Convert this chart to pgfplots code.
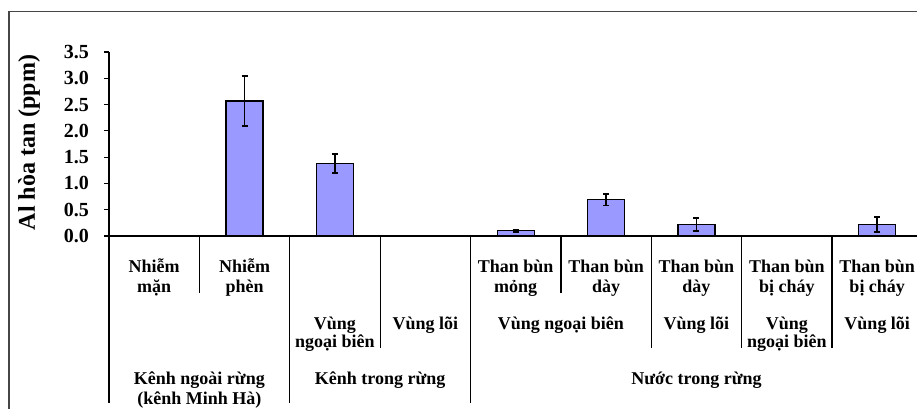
\documentclass[border=0pt]{standalone}
\usepackage{pgfplots}
\usepackage{pgfplotstable}
\pgfplotsset{compat=1.18}
\usepackage{fontspec}
\setmainfont{Liberation Serif}

\definecolor{barfill}{RGB}{153,153,255}
\definecolor{framegray}{RGB}{70,70,70}

% dissolved Al (ppm): slot, mean, standard error
\pgfplotstableread{
x y err
1 2.57 0.48
2 1.38 0.18
4 0.10 0.02
5 0.69 0.11
6 0.215 0.12
8 0.22 0.14
}\altable

\newcommand\lblfont{\fontsize{18bp}{20bp}\selectfont\bfseries}
% one line of category text: slot, depth of baseline below the axis, text
\newcommand\lab[3]{\node[anchor=base, inner sep=0pt, font=\lblfont]
  at (axis cs:#1,0) [yshift=-#2bp] {#3};}
% separator below the axis: slot boundary, depth
\newcommand\sep[2]{\draw[black, line width=1.2bp] (axis cs:#1,0) -- ++(0bp,-#2bp);}

\begin{document}
\begin{tikzpicture}[x=1bp,y=1bp]
% chart frame
\draw[framegray, line width=1.6bp] (8.7,-30) -- (8.7,396.3) -- (960,396.3);

\begin{axis}[
  at={(109bp,172bp)}, anchor=south west,
  scale only axis, width=808bp, height=184bp,
  xmin=-0.5, xmax=8.44, ymin=0, ymax=3.5,
  axis x line*=bottom, axis y line*=left,
  axis line style={black, line width=1.2bp},
  xtick=\empty,
  ytick={0,0.5,...,3.5},
  tick align=outside, major tick length=5bp,
  tick style={black, line width=1.2bp},
  yticklabel style={
    /pgf/number format/.cd, fixed, fixed zerofill, precision=1, assume math mode=true,
    /tikz/.cd, font=\fontsize{20bp}{20bp}\selectfont\bfseries,
    inner sep=0pt, anchor=east, xshift=-15bp},
  ylabel={Al hòa tan (ppm)},
  ylabel style={at={(axis description cs:-0.099,0.508)}, anchor=center,
    rotate=0, font=\fontsize{24bp}{24bp}\selectfont\bfseries},
  ybar, bar width=37bp,
  clip=false,
]
\addplot[ybar, fill=barfill, draw=black, line width=1.3bp,
  error bars/.cd, y dir=both, y explicit,
  error bar style={black, line width=1.8bp},
  error mark options={black, rotate=90, mark size=3bp, line width=1.8bp}]
  table[x=x, y=y, y error=err] {\altable};

% separators of the category levels
\sep{-0.5}{167}
\sep{0.5}{57}
\sep{1.5}{167}
\sep{2.5}{112}
\sep{3.5}{167}
\sep{4.5}{57}
\sep{5.5}{112}
\sep{6.5}{112}
\sep{7.5}{112}

% first level
\lab{0}{36}{Nhiễm}  \lab{0}{56}{mặn}
\lab{1}{36}{Nhiễm}  \lab{1}{56}{phèn}
\lab{4}{36}{Than bùn} \lab{4}{56}{mỏng}
\lab{5}{36}{Than bùn} \lab{5}{56}{dày}
\lab{6}{36}{Than bùn} \lab{6}{56}{dày}
\lab{7}{36}{Than bùn} \lab{7}{56}{bị cháy}
\lab{8}{36}{Than bùn} \lab{8}{56}{bị cháy}

% second level
\lab{2}{93}{Vùng} \lab{2}{111}{ngoại biên}
\lab{3}{93}{Vùng lõi}
\lab{4.5}{93}{Vùng ngoại biên}
\lab{6}{93}{Vùng lõi}
\lab{7}{93}{Vùng} \lab{7}{111}{ngoại biên}
\lab{8}{93}{Vùng lõi}

% third level
\lab{0.5}{148}{Kênh ngoài rừng} \lab{0.5}{168}{(kênh Minh Hà)}
\lab{2.5}{148}{Kênh trong rừng}
\lab{6}{148}{Nước trong rừng}
\end{axis}

\pgfresetboundingbox
\useasboundingbox (0,0) rectangle (917,408);
\end{tikzpicture}
\end{document}
